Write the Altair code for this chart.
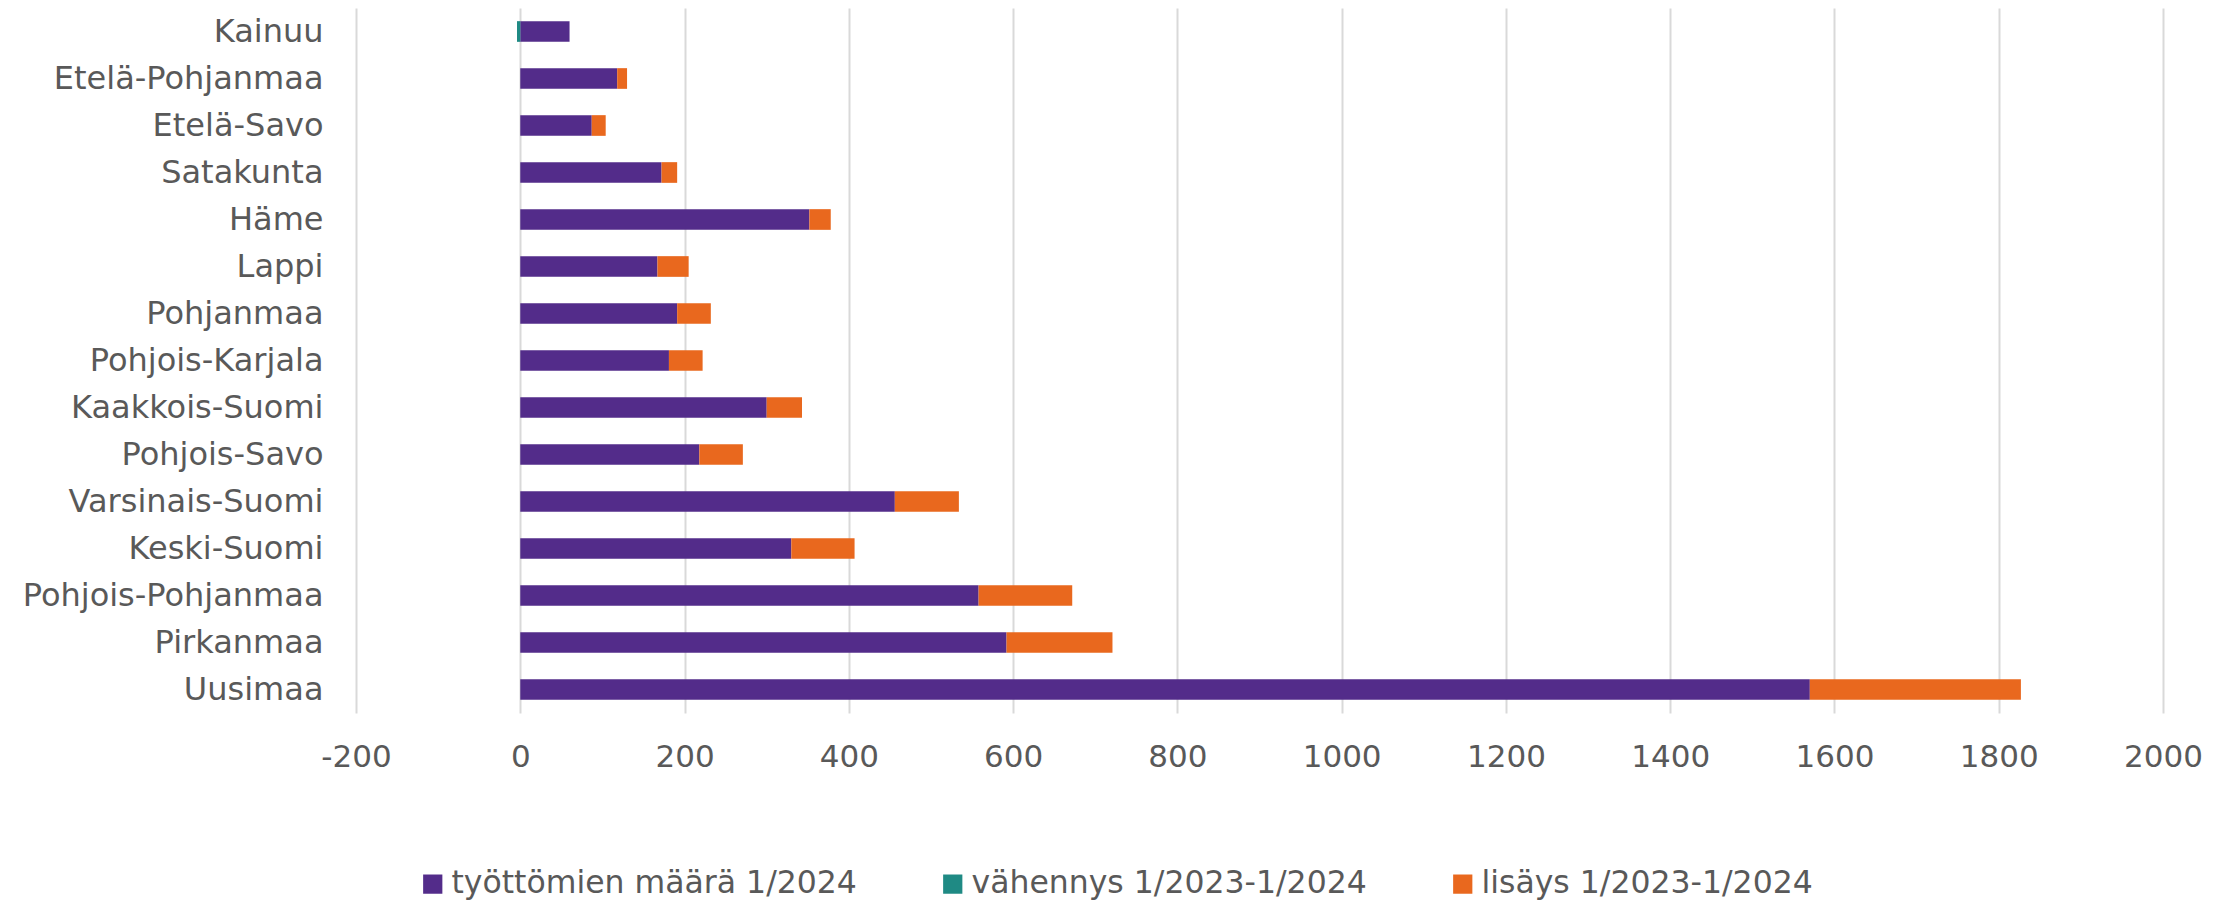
import altair as alt
import pandas as pd

regions = ["Kainuu", "Etelä-Pohjanmaa", "Etelä-Savo", "Satakunta", "Häme", "Lappi",
           "Pohjanmaa", "Pohjois-Karjala", "Kaakkois-Suomi", "Pohjois-Savo",
           "Varsinais-Suomi", "Keski-Suomi", "Pohjois-Pohjanmaa", "Pirkanmaa", "Uusimaa"]
tyottomat = [60, 118, 87, 172, 352, 167, 191, 181, 300, 218, 456, 330, 558, 592, 1570]
vahennys = [-4, 0, 0, 0, 0, 0, 0, 0, 0, 0, 0, 0, 0, 0, 0]
lisays = [0, 12, 17, 19, 26, 38, 41, 41, 43, 53, 78, 77, 114, 129, 257]

series_names = ["työttömien määrä 1/2024", "vähennys 1/2023-1/2024", "lisäys 1/2023-1/2024"]
series_colors = ["#532C8A", "#1F8A84", "#E9681E"]
x_ticks = list(range(-200, 2001, 200))

rows = []
for i, r in enumerate(regions):
    for k, vals in enumerate([tyottomat, vahennys, lisays]):
        if vals[i] != 0:
            rows.append({"alue": r, "sarja": series_names[k], "arvo": vals[i], "jarj": k})
df = pd.DataFrame(rows)

FONT = "DejaVu Sans"
TXT = "#595959"

chart = alt.Chart(df).mark_bar().encode(
    y=alt.Y("alue:N", sort=regions,
            scale=alt.Scale(paddingInner=0.56, paddingOuter=0.28),
            axis=alt.Axis(title=None, domain=False, ticks=False, grid=False,
                          labelFont=FONT, labelFontSize=32, labelColor=TXT, labelLimit=0,
                          labelPadding=33, minExtent=348, maxExtent=348)),
    x=alt.X("arvo:Q", stack="zero",
            scale=alt.Scale(domain=[-200, 2000], nice=False, zero=False),
            axis=alt.Axis(title=None, domain=False, ticks=False, tickSize=0,
                          values=x_ticks, grid=True, gridColor="#d9d9d9", gridWidth=2,
                          labelExpr="datum.value + ''",
                          labelFont=FONT, labelFontSize=31, labelColor=TXT,
                          labelPadding=29, labelFlush=False)),
    color=alt.Color("sarja:N",
                    scale=alt.Scale(domain=series_names, range=series_colors),
                    legend=alt.Legend(title=None, orient="none", direction="horizontal",
                                      legendX=61, legendY=860, labelLimit=0, padding=0,
                                      symbolType="square", symbolSize=370, symbolStrokeWidth=0,
                                      labelFont=FONT, labelFontSize=31.5, labelColor=TXT,
                                      labelOffset=3, columnPadding=80)),
    order=alt.Order("jarj:Q"),
).properties(
    width=1807, height=705, padding=0
).configure_view(stroke=None)

chart.save("out.html", embed_options={"renderer": "svg", "actions": False})
